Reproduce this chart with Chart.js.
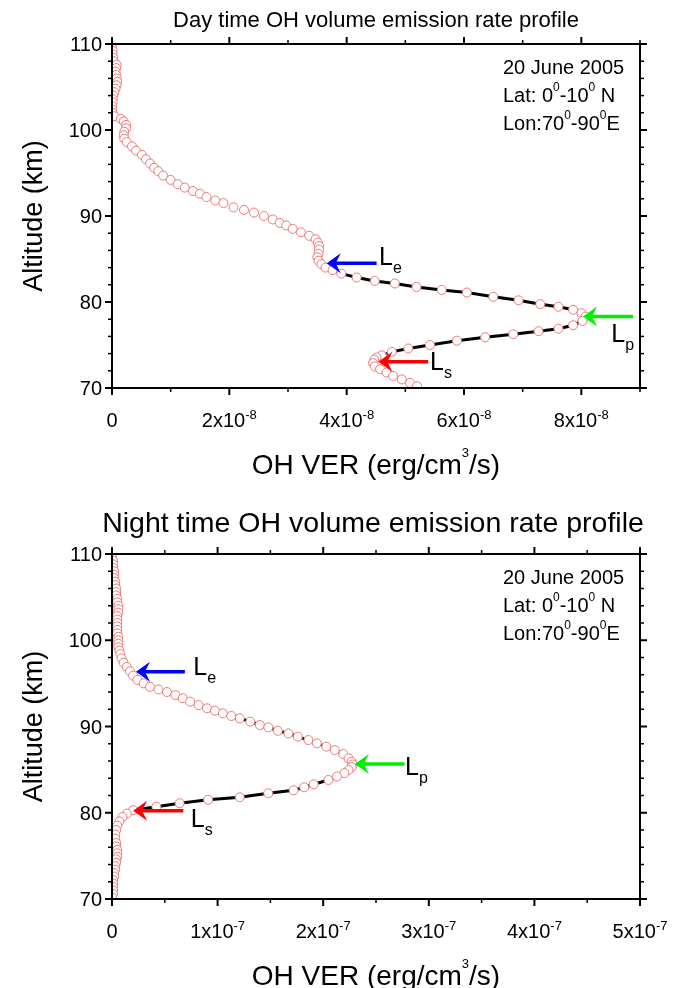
<!DOCTYPE html>
<html>
<head>
<meta charset="utf-8">
<title>OH volume emission rate profiles</title>
<script src="https://cdn.jsdelivr.net/npm/chart.js@4.4.1/dist/chart.umd.min.js"></script>
<style>
  html, body { margin: 0; padding: 0; background: #fff; }
  canvas { display: block; }
</style>
</head>
<body>
<canvas id="day-chart" width="681" height="494"></canvas>
<canvas id="night-chart" width="681" height="494"></canvas>
<script>
// Day time profile: altitude (km) and VER in units of 1e-8 erg/cm3/s
var dayAltitude = [
  110.0, 109.6, 109.2, 108.8, 108.4, 108.0, 107.6, 107.2, 106.8, 106.4,
  106.0, 105.6, 105.2, 104.8, 104.4, 104.0, 103.6, 103.2, 102.8, 102.4,
  102.0, 101.6, 101.3, 101.0, 100.6, 100.2, 99.8, 99.4, 99.0, 98.6,
  98.1, 97.6, 97.1, 96.6, 96.1, 95.6, 95.2, 94.7, 94.2, 93.7,
  93.3, 92.9, 92.6, 92.2, 91.8, 91.5, 91.0, 90.7, 90.4, 90.0,
  89.6, 89.2, 88.9, 88.5, 88.1, 87.7, 87.3, 86.9, 86.5, 86.1,
  85.6, 85.2, 84.8, 84.4, 84.0, 83.7, 83.3, 82.85, 82.45, 82.15,
  81.75, 81.4, 81.1, 80.6, 80.2, 79.75, 79.45, 79.1, 78.7, 78.3,
  77.8, 77.3, 76.9, 76.6, 76.25, 75.9, 75.5, 75.0, 74.6, 74.2,
  73.8, 73.55, 73.3, 72.9, 72.5, 72.2, 71.8, 71.4, 71.0, 70.6,
  70.2
];
var dayVer = [
  0.00, 0.00, 0.01, 0.01, 0.02, 0.03, 0.08, 0.07, 0.06, 0.07,
  0.08, 0.09, 0.08, 0.06, 0.04, 0.02, 0.01, 0.01, 0.00, 0.00,
  0.01, 0.04, 0.15, 0.20, 0.24, 0.24, 0.21, 0.20, 0.21, 0.25,
  0.34, 0.41, 0.51, 0.58, 0.65, 0.72, 0.79, 0.87, 1.00, 1.12,
  1.24, 1.38, 1.50, 1.61, 1.76, 1.90, 2.07, 2.25, 2.42, 2.59,
  2.74, 2.86, 2.97, 3.08, 3.22, 3.36, 3.47, 3.51, 3.53, 3.53,
  3.52, 3.50, 3.52, 3.57, 3.64, 3.76, 3.91, 4.17, 4.48, 4.82,
  5.19, 5.62, 6.05, 6.50, 6.93, 7.30, 7.61, 7.86, 8.00, 8.07,
  8.02, 7.86, 7.61, 7.27, 6.84, 6.36, 5.88, 5.42, 5.05, 4.77,
  4.60, 4.51, 4.47, 4.45, 4.48, 4.57, 4.68, 4.79, 4.94, 5.08,
  5.20
];
var dayLineFrom = 84.4;
var dayLineTo = 72.9;

// Night time profile: altitude (km) and VER in units of 1e-7 erg/cm3/s
var nightAltitude = [
  110.0, 109.6, 109.2, 108.8, 108.4, 108.0, 107.6, 107.2, 106.8, 106.4,
  106.0, 105.6, 105.2, 104.8, 104.4, 104.0, 103.6, 103.2, 102.8, 102.4,
  102.0, 101.6, 101.2, 100.8, 100.4, 100.0, 99.6, 99.2, 98.8, 98.4,
  97.9, 97.4, 96.9, 96.4, 95.9, 95.4, 95.0, 94.6, 94.3, 94.0,
  93.65, 93.27, 92.88, 92.49, 92.11, 91.83, 91.53, 91.22, 90.95, 90.56,
  90.17, 89.9, 89.51, 89.2, 88.82, 88.43, 88.05, 87.66, 87.27, 86.81,
  86.31, 85.92, 85.6, 85.3, 84.95, 84.6, 84.2, 83.8, 83.3, 82.95,
  82.6, 82.25, 81.8, 81.5, 81.1, 80.7, 80.3, 79.9, 79.5, 79.0,
  78.5, 78.0, 77.5, 77.0, 76.5, 76.1, 75.7, 75.3, 74.9, 74.6,
  74.2, 73.8, 73.4, 73.0, 72.6, 72.2, 71.8, 71.4, 71.0, 70.6,
  70.2
];
var nightVer = [
  0.00, 0.00, 0.01, 0.01, 0.01, 0.02, 0.02, 0.02, 0.03, 0.03,
  0.04, 0.04, 0.04, 0.05, 0.05, 0.06, 0.06, 0.06, 0.05, 0.05,
  0.05, 0.05, 0.05, 0.05, 0.06, 0.06, 0.06, 0.06, 0.07, 0.08,
  0.09, 0.11, 0.14, 0.17, 0.20, 0.24, 0.30, 0.36, 0.44, 0.52,
  0.60, 0.67, 0.74, 0.82, 0.90, 0.975, 1.05, 1.13, 1.21, 1.31,
  1.40, 1.48, 1.57, 1.67, 1.76, 1.86, 1.94, 2.03, 2.11, 2.19,
  2.24, 2.27, 2.28, 2.27, 2.24, 2.20, 2.13, 2.05, 1.91, 1.82,
  1.72, 1.48, 1.21, 0.91, 0.64, 0.42, 0.20, 0.14, 0.10, 0.07,
  0.05, 0.04, 0.03, 0.03, 0.04, 0.04, 0.05, 0.05, 0.05, 0.04,
  0.04, 0.03, 0.03, 0.02, 0.02, 0.01, 0.01, 0.01, 0.01, 0.01,
  0.00
];
var nightLineFrom = 91.22;
var nightLineTo = 80.3;

// axes
var yMajorTicks = [70, 80, 90, 100, 110];
var yMinorTicks = [72, 74, 76, 78, 82, 84, 86, 88, 92, 94, 96, 98, 102, 104, 106, 108];
var yTickLabels = ['70', '80', '90', '100', '110'];

var dayXMajorTicks = [0, 2, 4, 6, 8];
var dayXMinorTicks = [1, 3, 5, 7, 9];
var dayXTickLabels = ['0', '2x10^{-8}', '4x10^{-8}', '6x10^{-8}', '8x10^{-8}'];

var nightXMajorTicks = [0, 1, 2, 3, 4, 5];
var nightXMinorTicks = [0.5, 1.5, 2.5, 3.5, 4.5];
var nightXTickLabels = ['0', '1x10^{-7}', '2x10^{-7}', '3x10^{-7}', '4x10^{-7}', '5x10^{-7}'];

// Le, Lp, Ls markers (data coordinates)
var arrowNames = ['e', 'p', 's'];
var dayArrowAltitude = [84.5, 78.3, 73.05];
var dayArrowTip = [3.66, 8.03, 4.54];
var dayArrowTail = [4.51, 8.88, 5.39];
var dayLabelX = [4.55, 8.51, 5.42];
var dayLabelAltitude = [84.27, 75.37, 72.08];

var nightArrowAltitude = [96.35, 85.65, 80.24];
var nightArrowTip = [0.227, 2.30, 0.20];
var nightArrowTail = [0.69, 2.77, 0.675];
var nightLabelX = [0.77, 2.775, 0.745];
var nightLabelAltitude = [95.97, 84.38, 78.35];

var infoLines = ['20 June 2005', 'Lat: 0^{0}-10^{0} N', 'Lon:70^{0}-90^{0}E'];

var FONT = '"Liberation Sans", Arial, Helvetica, sans-serif';
var ARROW_COLORS = ['#0000ff', '#00ee00', '#ff0000'];

function toPoints(alts, vers) {
  return alts.map(function (a, i) { return { x: vers[i], y: a }; });
}

function linePart(alts, vers, from, to) {
  return toPoints(alts, vers).filter(function (p) { return p.y <= from && p.y >= to; });
}

function parseRich(str) {
  var parts = [];
  var re = /\^\{([^}]*)\}/g;
  var last = 0;
  var m;
  while ((m = re.exec(str))) {
    if (m.index > last) parts.push({ t: str.slice(last, m.index), sup: false });
    parts.push({ t: m[1], sup: true });
    last = re.lastIndex;
  }
  if (last < str.length) parts.push({ t: str.slice(last), sup: false });
  return parts;
}

// text with ^{superscript} parts
function drawRich(ctx, str, x, y, opt) {
  var parts = parseRich(str);
  var total = 0;
  parts.forEach(function (p) {
    ctx.font = (p.sup ? opt.supSize : opt.size) + 'px ' + FONT;
    p.w = ctx.measureText(p.t).width;
    total += p.w;
  });
  var cx = x;
  if (opt.align === 'center') cx = x - total / 2;
  if (opt.align === 'right') cx = x - total;
  ctx.textAlign = 'left';
  ctx.textBaseline = 'alphabetic';
  parts.forEach(function (p) {
    ctx.font = (p.sup ? opt.supSize : opt.size) + 'px ' + FONT;
    ctx.fillText(p.t, cx, p.sup ? y - opt.raise : y);
    cx += p.w;
  });
}

function drawArrow(ctx, tipX, y, tailX, color) {
  ctx.save();
  ctx.strokeStyle = color;
  ctx.fillStyle = color;
  ctx.lineWidth = 3.5;
  ctx.beginPath();
  ctx.moveTo(tipX + 8, y);
  ctx.lineTo(tailX, y);
  ctx.stroke();
  ctx.beginPath();
  ctx.moveTo(tipX, y);
  ctx.lineTo(tipX + 14, y - 10);
  ctx.lineTo(tipX + 9, y);
  ctx.lineTo(tipX + 14, y + 10);
  ctx.closePath();
  ctx.fill();
  ctx.restore();
}

function framePlugin(cfg) {
  return {
    id: 'profileFrame',
    afterDatasetsDraw: function (chart) {
      var ctx = chart.ctx;
      var a = chart.chartArea;
      var xs = chart.scales.x;
      var ys = chart.scales.y;

      ctx.save();
      ctx.strokeStyle = '#000';
      ctx.fillStyle = '#000';

      function seg(x1, y1, x2, y2, w) {
        ctx.lineWidth = w;
        ctx.beginPath();
        ctx.moveTo(x1, y1);
        ctx.lineTo(x2, y2);
        ctx.stroke();
      }

      // ticks on all four sides, pointing out
      function xTicks(list, len, w) {
        list.forEach(function (v) {
          var px = xs.getPixelForValue(v);
          seg(px, a.bottom, px, a.bottom + len, w);
          seg(px, a.top, px, a.top - len, w);
        });
      }
      function yTicks(list, len, w) {
        list.forEach(function (v) {
          var py = ys.getPixelForValue(v);
          seg(a.left, py, a.left - len, py, w);
          seg(a.right, py, a.right + len, py, w);
        });
      }
      xTicks(cfg.xMinor, 4, 1.5);
      xTicks(cfg.xMajor, 7, 2);
      yTicks(yMinorTicks, 4, 1.5);
      yTicks(yMajorTicks, 7, 2);

      ctx.lineWidth = 2;
      ctx.strokeRect(a.left, a.top, a.right - a.left, a.bottom - a.top);

      // tick labels
      cfg.xMajor.forEach(function (v, i) {
        drawRich(ctx, cfg.xLabels[i], xs.getPixelForValue(v), a.bottom + 39,
          { size: 20, supSize: 13, raise: 8, align: 'center' });
      });
      ctx.font = '20px ' + FONT;
      ctx.textAlign = 'right';
      ctx.textBaseline = 'alphabetic';
      yMajorTicks.forEach(function (v, i) {
        ctx.fillText(yTickLabels[i], a.left - 10, ys.getPixelForValue(v) + 7);
      });

      // axis titles
      var midX = (a.left + a.right) / 2;
      drawRich(ctx, 'OH VER (erg/cm^{3}/s)', midX, a.bottom + 86,
        { size: 28, supSize: 13, raise: 17, align: 'center' });
      ctx.save();
      ctx.translate(42, (a.top + a.bottom) / 2);
      ctx.rotate(-Math.PI / 2);
      ctx.font = '27px ' + FONT;
      ctx.textAlign = 'center';
      ctx.fillText('Altitude (km)', 0, 0);
      ctx.restore();

      // chart title
      ctx.font = cfg.titleSize + 'px ' + FONT;
      ctx.textAlign = 'center';
      ctx.fillText(cfg.title, midX - cfg.titleShift, a.top - cfg.titleGap);

      // date / location block
      infoLines.forEach(function (line, i) {
        drawRich(ctx, line, a.right - 137, a.top + 30 + i * 28,
          { size: 20, supSize: 12, raise: 11, align: 'left' });
      });

      // Le / Lp / Ls arrows and labels
      cfg.arrowAlt.forEach(function (alt, i) {
        var py = ys.getPixelForValue(alt);
        drawArrow(ctx, xs.getPixelForValue(cfg.arrowTip[i]), py,
          xs.getPixelForValue(cfg.arrowTail[i]), ARROW_COLORS[i]);
        var lx = xs.getPixelForValue(cfg.labelX[i]);
        var ly = ys.getPixelForValue(cfg.labelAlt[i]);
        ctx.fillStyle = '#000';
        ctx.textAlign = 'left';
        ctx.font = '25px ' + FONT;
        ctx.fillText('L', lx, ly);
        ctx.font = '16px ' + FONT;
        ctx.fillText(arrowNames[i], lx + 14, ly + 8);
      });

      ctx.restore();
    }
  };
}

function makeChart(canvasId, points, linePoints, xMax, padding, cfg) {
  var ctx = document.getElementById(canvasId).getContext('2d');
  return new Chart(ctx, {
    type: 'scatter',
    data: {
      datasets: [
        {
          data: points,
          showLine: false,
          pointRadius: 4.5,
          pointBorderWidth: 1,
          pointBorderColor: '#ef7878',
          pointBackgroundColor: '#ffffff',
          clip: 0,
        },
        {
          data: linePoints,
          showLine: true,
          borderColor: '#000000',
          borderWidth: 3,
          pointRadius: 0,
          fill: false,
          tension: 0,
        },
      ],
    },
    options: {
      responsive: false,
      animation: false,
      devicePixelRatio: 1,
      events: [],
      layout: { padding: padding },
      plugins: {
        legend: { display: false },
        title: { display: false },
        tooltip: { enabled: false },
      },
      scales: {
        x: { type: 'linear', min: 0, max: xMax, display: false },
        y: { type: 'linear', min: 70, max: 110, display: false },
      },
    },
    plugins: [framePlugin(cfg)],
  });
}

makeChart('day-chart',
  toPoints(dayAltitude, dayVer),
  linePart(dayAltitude, dayVer, dayLineFrom, dayLineTo),
  9,
  { left: 112, right: 41, top: 44, bottom: 106 },
  {
    title: 'Day time OH volume emission rate profile',
    titleSize: 22, titleGap: 17, titleShift: 0,
    xMajor: dayXMajorTicks, xMinor: dayXMinorTicks, xLabels: dayXTickLabels,
    arrowAlt: dayArrowAltitude, arrowTip: dayArrowTip, arrowTail: dayArrowTail,
    labelX: dayLabelX, labelAlt: dayLabelAltitude,
  });

makeChart('night-chart',
  toPoints(nightAltitude, nightVer),
  linePart(nightAltitude, nightVer, nightLineFrom, nightLineTo),
  5,
  { left: 112, right: 41, top: 60, bottom: 89 },
  {
    title: 'Night time OH volume emission rate profile',
    titleSize: 28.5, titleGap: 22, titleShift: 3,
    xMajor: nightXMajorTicks, xMinor: nightXMinorTicks, xLabels: nightXTickLabels,
    arrowAlt: nightArrowAltitude, arrowTip: nightArrowTip, arrowTail: nightArrowTail,
    labelX: nightLabelX, labelAlt: nightLabelAltitude,
  });
</script>
</body>
</html>
